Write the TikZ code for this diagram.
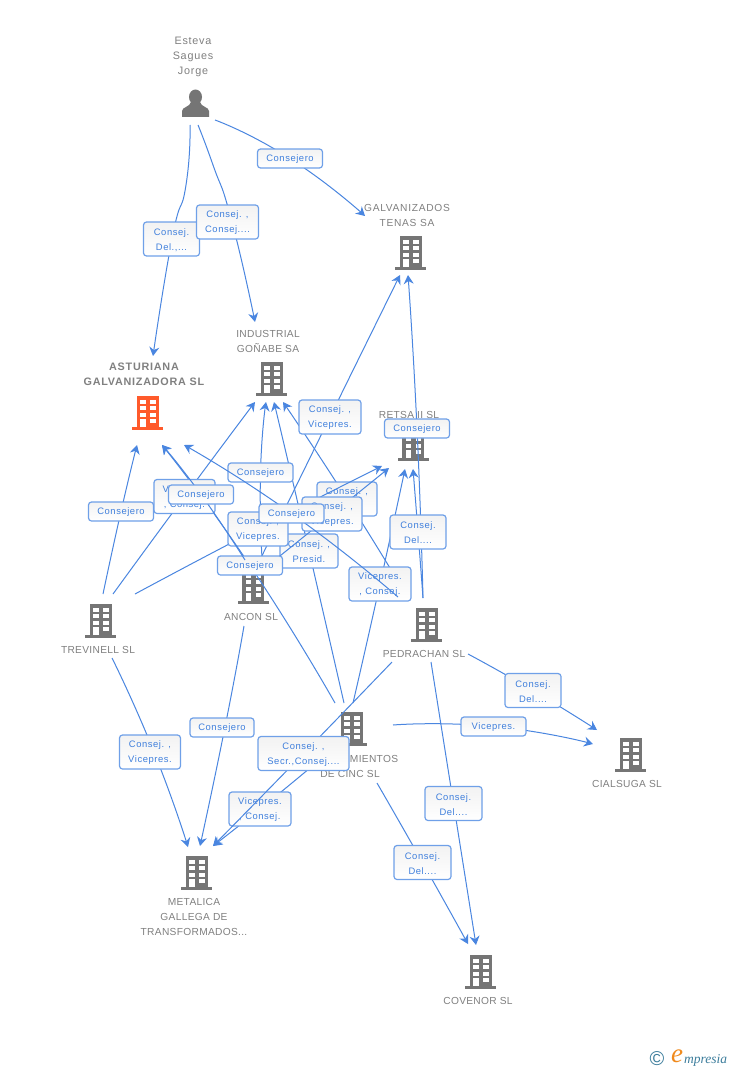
\documentclass[tikz,border=0pt]{standalone}
\usepackage{fontspec}
\setmainfont{Liberation Sans}
\newfontfamily\labfont[LetterSpace=6]{Liberation Sans}
\newfontfamily\namefont[LetterSpace=3]{Liberation Sans}
\newfontfamily\widefont[LetterSpace=7]{Liberation Sans}
\newfontfamily\logofont{Liberation Serif}
\usetikzlibrary{arrows.meta}
\definecolor{linkc}{HTML}{4A86E0}
\definecolor{edgec}{HTML}{6FA0E8}
\definecolor{labtxt}{HTML}{3F7FDC}
\definecolor{namec}{HTML}{808080}
\definecolor{iconc}{HTML}{757575}
\definecolor{mainc}{HTML}{FF5A2B}
\definecolor{logoc}{HTML}{3C7D9C}
\definecolor{logoe}{HTML}{F08A1D}
\tikzset{
  x=1pt,y=-1pt,
  conn/.style={draw=linkc,line width=1pt,-{Stealth[length=9pt,width=10pt,inset=3pt]}},
  lab/.style n args={2}{draw=edgec,line width=1.2pt,rounded corners=3pt,top color=black!5,bottom color=white,
    minimum width=#1,minimum height=#2,inner sep=0pt},
  labtext/.style={inner sep=0pt,align=center,text=labtxt,
    font=\labfont\fontsize{9.4}{15}\selectfont},
  entname/.style={text=namec,align=center,inner sep=0pt,font=\namefont\fontsize{10.2}{15}\selectfont},
  pics/bldg/.style={code={
    \fill[#1] (-11,-34) rectangle (11,0);
    \fill[#1] (-15.5,-3) rectangle (15.5,0);
    \foreach \cx in {-7.5,2.5}{\foreach \ry in {-30,-24,-17.5,-11.5}{
      \fill[white] (\cx,\ry) rectangle ++(5.5,4);}}
    \fill[white] (-7.5,-7.5) rectangle (-2,-3);
  }}
}
% name, source, way points, target, label centre, width, height, text
\newcommand{\connp}[8]{%
  \coordinate (#1c) at (#5);
  \draw[conn] plot[smooth,tension=1] coordinates {(#2) #3 (#4)};
  \node[lab={#6pt}{#7pt}] (#1) at (#1c) {};
  \node[labtext] (#1t) at ([yshift=-1pt]#1c) {#8};
}
\newcommand{\conn}[7]{\connp{#1}{#2}{(#3)}{#4}{#3}{#5}{#6}{#7}}
\begin{document}
\begin{tikzpicture}
\useasboundingbox (0,0) rectangle (728,1070);
\fill[white] (0,0) rectangle (728,1070);
% entity names
\node[entname,font=\widefont\fontsize{10.8}{15}\selectfont] (esteva) at (193,56.5) {Esteva\\Sagues\\Jorge};
\node[entname,font=\widefont\fontsize{10.2}{15}\selectfont] (galv) at (407,215) {GALVANIZADOS\\TENAS SA};
\node[entname] (gonabe) at (268,341) {INDUSTRIAL\\GOÑABE SA};
\node[entname,font=\widefont\bfseries\fontsize{10.8}{15}\selectfont] (astur) at (144,374) {ASTURIANA\\GALVANIZADORA SL};
\node[entname] (retsa) at (409,414.5) {RETSA II SL};
\node[entname] (trev) at (98,650) {TREVINELL  SL};
\node[entname] (ancon) at (251,617) {ANCON SL};
\node[entname] (pedra) at (424,654) {PEDRACHAN  SL};
\node[entname] (recub) at (350,766) {RECUBRIMIENTOS\\DE CINC SL};
\node[entname] (cials) at (627,784) {CIALSUGA SL};
\node[entname] (metal) at (194,917) {METALICA\\GALLEGA DE\\TRANSFORMADOS...};
\node[entname] (coven) at (478,1001) {COVENOR SL};
% icons
\fill[iconc] (195.5,97) ellipse (6.5 and 7.5);
\fill[iconc] (182,117) -- (182,111) .. controls (182,107) and (190,107) .. (191,102) -- (200,102) .. controls (201,107) and (209,107) .. (209,111) -- (209,117) -- cycle;
\pic at (410.5,270) {bldg=iconc};
\pic at (271.5,396) {bldg=iconc};
\pic at (147.5,430) {bldg=mainc};
\pic at (413,461) {bldg=iconc};
\pic at (100.5,638) {bldg=iconc};
\pic at (253,604) {bldg=iconc};
\pic at (426.5,642) {bldg=iconc};
\pic at (351.5,746) {bldg=iconc};
\pic at (630.5,772) {bldg=iconc};
\pic at (196.5,890) {bldg=iconc};
\pic at (480.5,989) {bldg=iconc};
% connector ends
\coordinate (e1) at (215,120);
\coordinate (e2) at (190,125);
\coordinate (e3) at (198,125);
\coordinate (tGalA) at (365,216);
\coordinate (tGalB) at (400,275);
\coordinate (tGalC) at (408,275);
\coordinate (tGonA) at (255,322);
\coordinate (tGonB) at (255,402);
\coordinate (tGonC) at (266,402);
\coordinate (tGonD) at (274,402);
\coordinate (tGonE) at (283,402);
\coordinate (tAstA) at (153,356);
\coordinate (tAstB) at (137,445);
\coordinate (tAstC) at (162,445);
\coordinate (tAstD) at (184,445);
\coordinate (tRetA) at (382,466);
\coordinate (tRetB) at (389,468);
\coordinate (tRetC) at (405,469);
\coordinate (tRetD) at (413,469);
\coordinate (tMetA) at (188,847);
\coordinate (tMetB) at (200,846);
\coordinate (tMetC) at (213,846);
\coordinate (tCiaA) at (597,730);
\coordinate (tCiaB) at (593,744);
\coordinate (tCovA) at (468,944);
\coordinate (tCovB) at (476,945);
\coordinate (sTrA) at (103,594);
\coordinate (sTrB) at (113,594);
\coordinate (sTrC) at (135,594);
\coordinate (sTrD) at (112,658);
\coordinate (sAnA) at (245,560);
\coordinate (sAnB) at (262,558);
\coordinate (sAnC) at (255,570);
\coordinate (sAnD) at (260,572);
\coordinate (sAnE) at (244,626);
\coordinate (sPeA) at (398,597);
\coordinate (sPeB) at (408,598);
\coordinate (sPeC) at (423,598);
\coordinate (sPeD) at (392,662);
\coordinate (sPeE) at (431,662);
\coordinate (sPeF) at (468,654);
\coordinate (sFuA) at (335,703);
\coordinate (sFuB) at (344,703);
\coordinate (sFuC) at (353,703);
\coordinate (sFuD) at (310,768);
\coordinate (sFuE) at (393,725);
\coordinate (sFuF) at (377,783);
% connectors with their labels, in stacking order
\conn{a1}{e1}{290,158.5}{tGalA}{65}{19}{Consejero}
\connp{a2}{e2}{(186,185)(172,239)}{tAstA}{171.5,239}{56}{34}{Consej.\\Del.,...}
\connp{a3}{e3}{(213,165)(232,222)}{tGonA}{227.5,222}{62}{34}{Consej. ,\\Consej....}
\conn{b1}{sPeC}{417,428.5}{tGalC}{65}{19}{Consejero}
\conn{b2}{sPeB}{347,499}{tGonE}{60}{34}{Consej. ,\\Vicepr.}
\conn{b3}{sFuB}{309,551}{tGonD}{58}{34}{Consej. ,\\Presid.}
\conn{b4}{sAnC}{330,417}{tGalB}{62}{34}{Consej. ,\\Vicepres.}
\conn{b5}{sAnB}{260.5,472.5}{tGonC}{65}{19}{Consejero}
\conn{b6}{sFuC}{380,584}{tRetC}{62}{34}{Vicepres.\\, Consej.}
\conn{b7}{sPeC}{418,532}{tRetD}{56}{34}{Consej.\\Del....}
\conn{b8}{sTrC}{258,529}{tRetA}{60}{34}{Consej. ,\\Vicepres.}
\conn{b9}{sAnD}{332,514}{tRetB}{60}{34}{Consej. ,\\Vicepres.}
\conn{c1}{sFuA}{250,565.5}{tAstC}{65}{19}{Consejero}
\conn{c2}{sPeA}{291.5,513.5}{tAstD}{65}{19}{Consejero}
\conn{c3}{sTrA}{121,511.5}{tAstB}{65}{19}{Consejero}
\conn{c4}{sTrB}{184.5,496.5}{tGonB}{61}{34}{Vicepres.\\, Consej.}
\conn{c5}{sAnA}{201,494.5}{tAstC}{65}{19}{Consejero}
\connp{d1}{sTrD}{(154,752)}{tMetA}{150,752}{61}{34}{Consej. ,\\Vicepres.}
\connp{d2}{sAnE}{(225,727)}{tMetB}{222,727.5}{64}{19}{Consejero}
\conn{d3}{sFuD}{260,809}{tMetC}{62}{34}{Vicepres.\\, Consej.}
\conn{d4}{sPeD}{303.5,753.5}{tMetC}{91}{34}{Consej. ,\\Secr.,Consej....}
\conn{d5}{sFuE}{493.5,726.5}{tCiaB}{65}{19}{Vicepres.}
\conn{d6}{sPeF}{533,690.5}{tCiaA}{56}{34}{Consej.\\Del....}
\conn{d7}{sPeE}{453.5,803.5}{tCovB}{57}{34}{Consej.\\Del....}
\conn{d8}{sFuF}{422.5,862.5}{tCovA}{57}{34}{Consej.\\Del....}
% logo
\node[inner sep=0pt,text=logoc,font=\fontsize{20}{20}\selectfont] (copyr) at (657,1059) {©};
\node[inner sep=0pt,text=logoe,font=\logofont\itshape\fontsize{27}{27}\selectfont] (logoE) at (677,1056) {e};
\node[inner sep=0pt,anchor=west,text=logoc,font=\logofont\itshape\fontsize{13.5}{13.5}\selectfont] (logoT) at (684,1060) {mpresia};
\end{tikzpicture}
\end{document}
